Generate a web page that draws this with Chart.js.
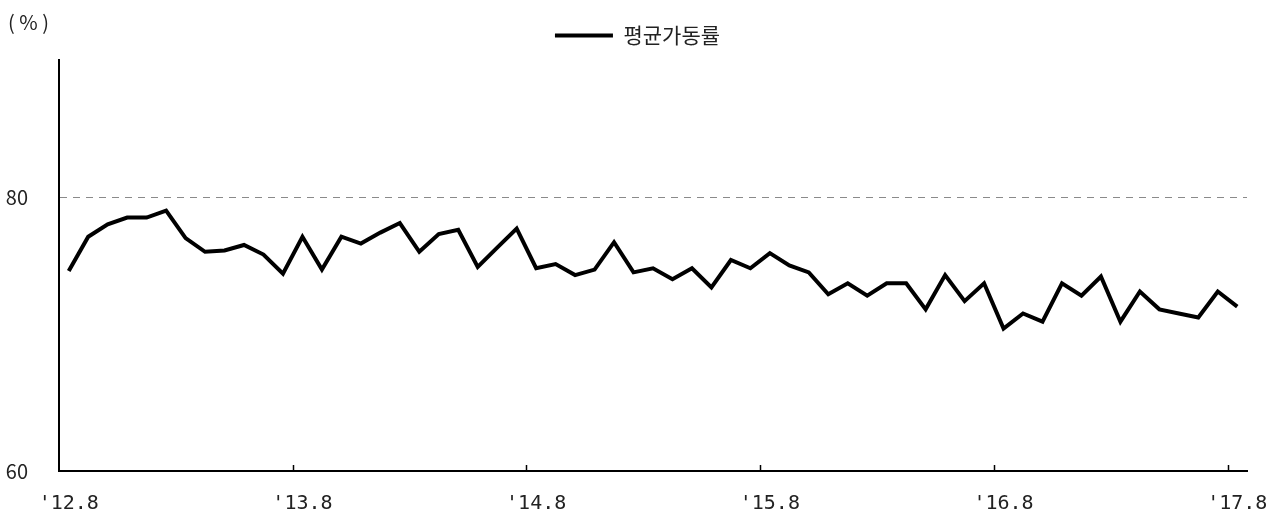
<!DOCTYPE html>
<html>
<head>
<meta charset="utf-8">
<script src="https://cdn.jsdelivr.net/npm/chart.js@4/dist/chart.umd.min.js"></script>
<style>
  html, body { margin: 0; padding: 0; background: #fff; }
</style>
</head>
<body>
<canvas id="grafica" width="1281" height="518" style="width:1281px;height:518px;"></canvas>
<script>
const grafica = document.getElementById('grafica');

// monthly labels '12.8 ... '17.8
const tags = [];
for (let i = 0; i < 61; i++) {
  const m = 7 + i;
  tags.push("'" + (12 + Math.floor(m / 12)) + '.' + (m % 12 + 1));
}

const yearTicks = ["'12.8", "'13.8", "'14.8", "'15.8", "'16.8", "'17.8"];
const yTicks = [60, 80];

const avgRate = [
  74.6, 77.1, 78.0, 78.5, 78.5, 79.0, 77.0, 76.0, 76.1, 76.5, 75.8, 74.4,
  77.1, 74.7, 77.1, 76.6, 77.4, 78.1, 76.0, 77.3, 77.6, 74.9, 76.3, 77.7,
  74.8, 75.1, 74.3, 74.7, 76.7, 74.5, 74.8, 74.0, 74.8, 73.4, 75.4, 74.8,
  75.9, 75.0, 74.5, 72.9, 73.7, 72.8, 73.7, 73.7, 71.8, 74.3, 72.4, 73.7,
  70.4, 71.5, 70.9, 73.7, 72.8, 74.2, 70.9, 73.1, 71.8, 71.5, 71.2, 73.1,
  72.0
];

const dataRate = {
  label: '평균가동률',
  data: avgRate,
  borderColor: '#000',
  backgroundColor: '#000',
  borderWidth: 4,
  borderJoinStyle: 'miter',
  pointRadius: 0,
  pointStyle: 'line',
  tension: 0
};

// short inward marks on the x axis at each year boundary
const yearMarks = {
  id: 'yearMarks',
  afterDraw(chart) {
    const x = chart.scales.x;
    const ctx = chart.ctx;
    const half = (x.getPixelForValue(1) - x.getPixelForValue(0)) / 2;
    const base = chart.chartArea.bottom;
    ctx.save();
    ctx.strokeStyle = '#000';
    ctx.lineWidth = 1.5;
    tags.forEach((t, i) => {
      if (i > 0 && yearTicks.includes(t)) {
        const px = Math.round(x.getPixelForValue(i) - half) + 0.5;
        ctx.beginPath();
        ctx.moveTo(px, base - 6);
        ctx.lineTo(px, base);
        ctx.stroke();
      }
    });
    // unit label
    ctx.fillStyle = '#222';
    ctx.font = "20px 'Noto Sans CJK KR'";
    ctx.textBaseline = 'middle';
    ctx.textAlign = 'left';
    ctx.fillText('( % )', 8, 22);
    ctx.restore();
  }
};

// fixed legend band height, legend centred a bit right of the canvas middle
const legendBand = {
  id: 'legendBand',
  beforeInit(chart) {
    const fit = chart.legend.fit;
    chart.legend.fit = function () {
      fit.bind(chart.legend)();
      this.height = 60;
    };
  },
  afterLayout(chart) {
    chart.legend.left = 28;
  }
};

let myChart = new Chart(grafica, {
  type: 'line',
  data: {
    labels: tags,
    datasets: [dataRate]
  },
  plugins: [legendBand, yearMarks],
  options: {
    responsive: false,
    animation: false,
    layout: { padding: { left: 0, right: 34, top: 0, bottom: 4 } },
    scales: {
      x: {
        offset: true,
        afterFit: s => { s.height = 43; s.paddingLeft = 0; s.paddingRight = 0; },
        grid: { display: false, drawTicks: false },
        border: { display: true, color: '#000', width: 2 },
        ticks: {
          autoSkip: false,
          maxRotation: 0,
          padding: 21,
          color: '#222',
          font: { family: "'DejaVu Sans Mono'", size: 20 },
          callback: (v, i) => yearTicks.includes(tags[i]) ? tags[i] : ''
        }
      },
      y: {
        min: 60,
        max: 90,
        afterBuildTicks: s => { s.ticks = yTicks.map(v => ({ value: v })); },
        afterFit: s => { s.width = 59; },
        grid: {
          drawTicks: false,
          lineWidth: 1,
          color: c => (c.tick && c.tick.value === 80) ? '#8a8a8a' : 'rgba(0,0,0,0)'
        },
        border: { display: true, color: '#000', width: 2, dash: [7, 6] },
        ticks: {
          padding: 31,
          color: '#222',
          font: { family: "'Noto Sans CJK KR'", size: 20 }
        }
      }
    },
    plugins: {
      legend: {
        display: true,
        labels: {
          usePointStyle: true,
          pointStyle: 'line',
          pointStyleWidth: 58,
          padding: 25,
          color: '#222',
          font: { family: "'Noto Sans CJK KR'", size: 21 }
        }
      },
      tooltip: { enabled: false }
    }
  }
});
</script>
</body>
</html>
